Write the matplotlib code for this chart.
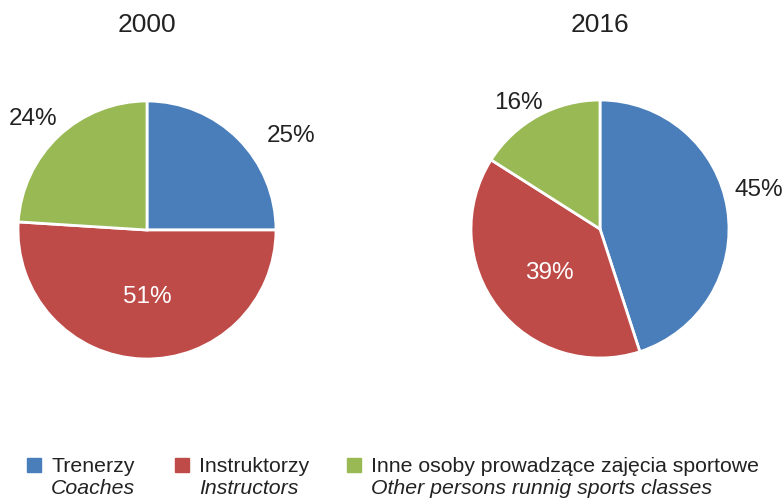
import matplotlib.pyplot as plt
from matplotlib.patches import Rectangle

plt.rcParams['font.family'] = ['Liberation Sans', 'DejaVu Sans']

years = ['2000', '2016']
shares_2000 = [25, 51, 24]
shares_2016 = [45, 39, 16]
labels_pl = ['Trenerzy', 'Instruktorzy', 'Inne osoby prowadzące zajęcia sportowe']
labels_en = ['Coaches', 'Instructors', 'Other persons runnig sports classes']
colors = ['#4a7ebb', '#be4b48', '#98b954']

# label offsets (in pie radius units) roughly where the original puts them
label_pos = {
    '2000': [(1.12, 0.73), (0.0, -0.52), (-0.88, 0.86)],
    '2016': [(1.23, 0.30), (-0.39, -0.34), (-0.63, 0.98)],
}
label_color = {
    '2000': ['#222222', 'white', '#222222'],
    '2016': ['#222222', 'white', '#222222'],
}

W, H = 784, 501
fig = plt.figure(figsize=(W / 100, H / 100), dpi=100)

R = 129
centers = [(147, 230), (600, 229)]
for year, shares, (cx, cy) in zip(years, [shares_2000, shares_2016], centers):
    ax = fig.add_axes([(cx - R) / W, (H - cy - R) / H, 2 * R / W, 2 * R / H])
    wedges, _ = ax.pie(shares, colors=colors, startangle=90, counterclock=False,
                       wedgeprops=dict(edgecolor='white', linewidth=2))
    ax.set_xlim(-1, 1)
    ax.set_ylim(-1, 1)
    ax.set_aspect('equal')
    for v, (px, py), c in zip(shares, label_pos[year], label_color[year]):
        ax.text(px, py, f'{v}%', ha='center', va='center', fontsize=17.5, color=c)
    fig.text(cx / W, (H - 25) / H, year, ha='center', va='center', fontsize=19, color='#222222')

# legend: colored squares with two-line labels
leg_x = [27, 175, 347]
for x, c, pl, en in zip(leg_x, colors, labels_pl, labels_en):
    fig.patches.append(Rectangle((x / W, (H - 472) / H), 14 / W, 14 / H,
                                 transform=fig.transFigure, color=c))
    fig.text((x + 24) / W, (H - 466) / H, pl, ha='left', va='center', fontsize=15.3, color='#222222')
    fig.text((x + 24) / W, (H - 489) / H, en, ha='left', va='center', fontsize=15.3,
             style='italic', color='#222222')

fig.savefig('out.png', dpi=100)
